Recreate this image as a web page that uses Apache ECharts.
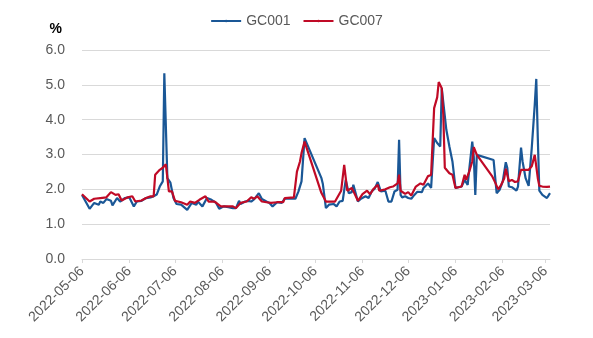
<!DOCTYPE html>
<html>
<head>
<meta charset="utf-8">
<script src="https://cdn.jsdelivr.net/npm/echarts@6/dist/echarts.min.js"></script>
<style>html,body{margin:0;padding:0;background:#fff}#c{width:593px;height:338px}</style>
</head>
<body>
<div id="c"></div>
<script>
// x-axis calendar range
const axisStart = '2022-05-06';
const axisEnd = '2023-03-09';
const yTicks = [0, 1, 2, 3, 4, 5, 6];

const gc001Dates = ['2022-05-06','2022-05-11','2022-05-14','2022-05-17','2022-05-18','2022-05-20','2022-05-22','2022-05-25','2022-05-26','2022-05-29','2022-05-31','2022-06-03','2022-06-06','2022-06-09','2022-06-11','2022-06-14','2022-06-17','2022-06-20','2022-06-22','2022-06-24','2022-06-26','2022-06-28','2022-06-29','2022-07-01','2022-07-03','2022-07-05','2022-07-07','2022-07-10','2022-07-14','2022-07-17','2022-07-20','2022-07-21','2022-07-24','2022-07-27','2022-07-30','2022-08-02','2022-08-04','2022-08-07','2022-08-10','2022-08-13','2022-08-15','2022-08-17','2022-08-18','2022-08-21','2022-08-23','2022-08-25','2022-08-27','2022-08-30','2022-09-01','2022-09-04','2022-09-06','2022-09-08','2022-09-11','2022-09-14','2022-09-16','2022-09-19','2022-09-23','2022-09-25','2022-09-27','2022-09-29','2022-10-10','2022-10-11','2022-10-13','2022-10-15','2022-10-18','2022-10-20','2022-10-22','2022-10-24','2022-10-26','2022-10-28','2022-10-30','2022-10-31','2022-11-01','2022-11-03','2022-11-05','2022-11-08','2022-11-10','2022-11-12','2022-11-14','2022-11-16','2022-11-18','2022-11-21','2022-11-23','2022-11-25','2022-11-27','2022-11-29','2022-11-30','2022-12-01','2022-12-02','2022-12-04','2022-12-06','2022-12-08','2022-12-10','2022-12-12','2022-12-15','2022-12-16','2022-12-19','2022-12-21','2022-12-22','2022-12-23','2022-12-25','2022-12-27','2022-12-28','2022-12-29','2022-12-31','2023-01-02','2023-01-04','2023-01-06','2023-01-08','2023-01-10','2023-01-12','2023-01-14','2023-01-15','2023-01-17','2023-01-18','2023-01-19','2023-01-20','2023-01-31','2023-02-02','2023-02-04','2023-02-06','2023-02-08','2023-02-09','2023-02-10','2023-02-12','2023-02-13','2023-02-15','2023-02-16','2023-02-18','2023-02-19','2023-02-21','2023-02-23','2023-02-25','2023-02-27','2023-02-28','2023-03-01','2023-03-02','2023-03-04','2023-03-07','2023-03-08','2023-03-09'];
const gc001Values = [1.84,1.44,1.61,1.56,1.65,1.61,1.72,1.67,1.54,1.75,1.65,1.75,1.77,1.51,1.65,1.67,1.75,1.77,1.80,1.85,2.08,2.23,5.33,2.32,2.19,1.75,1.58,1.56,1.41,1.61,1.56,1.65,1.51,1.75,1.70,1.61,1.44,1.51,1.49,1.46,1.46,1.67,1.58,1.65,1.67,1.65,1.72,1.89,1.72,1.65,1.61,1.51,1.63,1.61,1.73,1.73,1.73,1.94,2.23,3.47,2.33,2.15,1.46,1.56,1.58,1.51,1.65,1.67,2.27,1.89,1.92,2.13,2.13,1.65,1.73,1.80,1.75,1.94,2.02,2.21,1.94,1.96,1.65,1.65,1.94,1.99,3.42,1.84,1.77,1.80,1.75,1.73,1.84,1.93,1.92,2.04,2.17,2.04,2.00,3.47,3.33,3.23,4.90,4.95,3.71,3.23,2.80,2.04,2.06,2.08,2.27,2.13,2.56,3.37,2.94,1.84,2.99,2.84,1.89,1.99,2.23,2.78,2.61,2.08,2.06,2.04,1.96,2.08,3.20,2.80,2.32,2.10,3.17,4.43,5.17,3.47,1.96,1.84,1.75,1.80,1.89];

const gc007Dates = ['2022-05-06','2022-05-11','2022-05-14','2022-05-18','2022-05-22','2022-05-25','2022-05-28','2022-05-30','2022-06-01','2022-06-05','2022-06-08','2022-06-10','2022-06-14','2022-06-17','2022-06-20','2022-06-22','2022-06-23','2022-06-26','2022-06-28','2022-06-30','2022-07-02','2022-07-04','2022-07-06','2022-07-10','2022-07-14','2022-07-16','2022-07-19','2022-07-22','2022-07-26','2022-07-28','2022-08-01','2022-08-05','2022-08-10','2022-08-13','2022-08-15','2022-08-18','2022-08-19','2022-08-22','2022-08-25','2022-08-27','2022-08-29','2022-09-01','2022-09-04','2022-09-07','2022-09-11','2022-09-15','2022-09-16','2022-09-22','2022-09-24','2022-09-26','2022-09-27','2022-09-29','2022-10-10','2022-10-13','2022-10-15','2022-10-19','2022-10-20','2022-10-23','2022-10-25','2022-10-27','2022-10-30','2022-11-01','2022-11-03','2022-11-06','2022-11-09','2022-11-11','2022-11-13','2022-11-16','2022-11-17','2022-11-21','2022-11-24','2022-11-26','2022-11-29','2022-11-30','2022-12-01','2022-12-04','2022-12-06','2022-12-08','2022-12-11','2022-12-14','2022-12-16','2022-12-19','2022-12-21','2022-12-22','2022-12-23','2022-12-25','2022-12-26','2022-12-28','2022-12-29','2022-12-30','2023-01-02','2023-01-04','2023-01-06','2023-01-08','2023-01-10','2023-01-12','2023-01-13','2023-01-15','2023-01-17','2023-01-18','2023-01-20','2023-01-30','2023-02-01','2023-02-03','2023-02-05','2023-02-07','2023-02-08','2023-02-10','2023-02-12','2023-02-14','2023-02-16','2023-02-18','2023-02-20','2023-02-23','2023-02-25','2023-02-27','2023-03-01','2023-03-02','2023-03-04','2023-03-07','2023-03-09'];
const gc007Values = [1.86,1.65,1.73,1.75,1.77,1.92,1.84,1.86,1.68,1.77,1.80,1.65,1.68,1.75,1.80,1.80,2.42,2.56,2.62,2.72,1.94,1.94,1.67,1.63,1.56,1.65,1.61,1.70,1.80,1.65,1.65,1.51,1.51,1.51,1.46,1.61,1.58,1.65,1.77,1.73,1.80,1.65,1.63,1.61,1.63,1.63,1.75,1.77,2.51,2.80,3.04,3.37,1.90,1.65,1.65,1.65,1.61,1.96,2.70,1.96,2.04,1.86,1.67,1.86,1.96,1.86,2.00,2.13,1.96,2.00,2.06,2.08,2.17,2.42,1.96,1.87,1.92,1.82,2.08,2.17,2.13,2.38,2.41,2.41,4.33,4.64,5.08,4.90,4.14,2.62,2.46,2.42,2.04,2.06,2.08,2.42,2.27,2.51,2.80,3.21,2.99,2.38,2.20,2.00,2.13,2.32,2.59,2.23,2.27,2.21,2.23,2.56,2.56,2.56,2.66,2.99,2.32,2.10,2.08,2.07,2.08];

function fmt(d) {
  const m = d.getUTCMonth() + 1, day = d.getUTCDate();
  return d.getUTCFullYear() + '-' + (m < 10 ? '0' : '') + m + '-' + (day < 10 ? '0' : '') + day;
}
const categories = [];
for (let t = Date.parse(axisStart + 'T00:00:00Z'); t <= Date.parse(axisEnd + 'T00:00:00Z'); t += 86400000) {
  categories.push(fmt(new Date(t)));
}
const idx = {};
categories.forEach((c, i) => idx[c] = i);
const pairs = (ds, vs) => ds.map((d, i) => [idx[d], vs[i]]);
const isLabelDay = (i, v) => v.slice(8) === '06';

const chart = echarts.init(document.getElementById('c'), null, {renderer: 'canvas'});
const font = 'Liberation Sans, Arial, sans-serif';
chart.setOption({
  animation: false,
  textStyle: {fontFamily: font},
  legend: {
    top: 9, left: 'center',
    itemWidth: 30, itemHeight: 3, itemGap: 12,
    textStyle: {color: '#595959', fontSize: 14, fontFamily: font},
    data: ['GC001', 'GC007']
  },
  grid: {left: 82, right: 43, top: 50, bottom: 79, containLabel: false},
  xAxis: {
    type: 'category',
    data: categories,
    boundaryGap: false,
    axisLine: {lineStyle: {color: '#d9d9d9', width: 1}},
    axisTick: {interval: isLabelDay, length: 4, lineStyle: {color: '#d9d9d9'}},
    axisLabel: {interval: isLabelDay, rotate: 45, color: '#595959', fontSize: 14, fontFamily: font, margin: 10},
    splitLine: {show: false}
  },
  yAxis: {
    type: 'value',
    min: yTicks[0], max: yTicks[yTicks.length - 1], interval: 1,
    name: '%',
    nameLocation: 'end',
    nameGap: 14,
    nameTextStyle: {color: '#000', fontSize: 14, fontWeight: 'bold', fontFamily: font, align: 'right', padding: [0, 20, 0, 0]},
    axisLine: {show: false},
    axisTick: {show: false},
    axisLabel: {color: '#595959', fontSize: 14, fontFamily: font, margin: 17, formatter: v => v.toFixed(1)},
    splitLine: {lineStyle: {color: '#d9d9d9', width: 1}}
  },
  series: [
    {name: 'GC001', type: 'line', data: pairs(gc001Dates, gc001Values), symbol: 'none', showSymbol: false,
     lineStyle: {color: '#1a5796', width: 2.2}, itemStyle: {color: '#1a5796'}},
    {name: 'GC007', type: 'line', data: pairs(gc007Dates, gc007Values), symbol: 'none', showSymbol: false,
     lineStyle: {color: '#c00a26', width: 2.2}, itemStyle: {color: '#c00a26'}}
  ]
});
</script>
</body>
</html>
